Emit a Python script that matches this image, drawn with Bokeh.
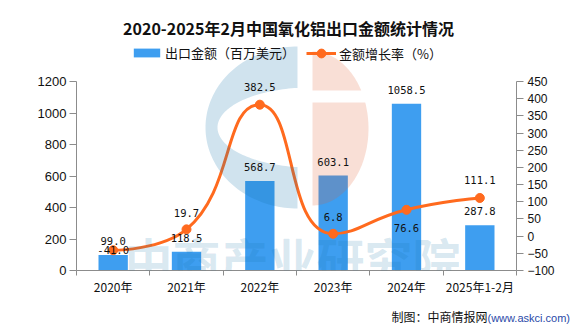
import math
import numpy as np
from bokeh.plotting import figure
from bokeh.layouts import column
from bokeh.models import (Range1d, LinearAxis, FixedTicker, Legend, LegendItem,
                          Label, ColumnDataSource, Div)
from bokeh.core.properties import value
from bokeh.embed import file_html
from bokeh.resources import INLINE

# ---------------- data ----------------
categories = ["2020年", "2021年", "2022年", "2023年", "2024年", "2025年1-2月"]
export_value = [99.0, 118.5, 568.7, 603.1, 1058.5, 287.8]      # 百万美元
growth_rate = [-41.0, 19.7, 382.5, 6.8, 76.6, 111.1]           # %
left_ticks = [0, 200, 400, 600, 800, 1000, 1200]
right_ticks = [-100, -50, 0, 50, 100, 150, 200, 250, 300, 350, 400, 450]

title_text = "2020-2025年2月中国氧化铝出口金额统计情况"
bar_legend = "出口金额（百万美元）"
line_legend = "金额增长率（%）"
source_text = "制图：中商情报网"
source_url = "(www.askci.com)"
watermark = "中商产业研究院"

# ---------------- styles ----------------
BAR_COLOR = "#3E9EF0"
LINE_COLOR = "#FF6A1E"
AXIS_COLOR = "#8c8c8c"
TEXT_COLOR = "#111111"
CJK = "Noto Sans CJK SC"
rate_label_offset = [0, -16, -18, -17, 18, -18]

W, H = 576, 324
PH = 300                               # figure height; a text row fills the rest
FL, FR, FT, FB = 76, 516, 0, 270      # frame in canvas pixels
AXIS_TOP = 81                          # pixel row of the top tick
n = len(categories)
x_lo, x_hi = -0.5, n - 0.5
y_top = left_ticks[-1] * (FB - FT) / (FB - AXIS_TOP)
r_lo, r_hi = right_ticks[0], right_ticks[-1]
r_top = r_lo + (r_hi - r_lo) * (FB - FT) / (FB - AXIS_TOP)


def px2x(px):
    return x_lo + (px - FL) / (FR - FL) * (x_hi - x_lo)


def py2y(py):
    return (FB - py) / (FB - FT) * y_top


def x2px(x):
    return FL + (x - x_lo) / (x_hi - x_lo) * (FR - FL)


def r2py(r):
    return FB - (r - r_lo) / (r_top - r_lo) * (FB - FT)


def py2r(py):
    return r_lo + (FB - py) / (FB - FT) * (r_top - r_lo)


p = figure(width=W, height=PH, output_backend="svg", toolbar_location=None,
           x_range=Range1d(x_lo, x_hi), y_range=Range1d(0, y_top),
           min_border_left=FL, min_border_right=W - FR,
           min_border_top=FT, min_border_bottom=PH - FB)
p.outline_line_color = None
p.xgrid.visible = False
p.ygrid.visible = False
p.background_fill_color = "white"
p.border_fill_color = "white"
p.extra_y_ranges = {"rate": Range1d(r_lo, r_top)}

idx = list(range(n))

# bars
bars = p.vbar(x=idx, top=export_value, width=0.4, bottom=0,
              fill_color=BAR_COLOR, line_color=None)

# smooth line (ECharts-style bezier smoothing, computed in pixel space)
px = [x2px(i) for i in idx]
py = [r2py(r) for r in growth_rate]


def smooth_segments(xs, ys, smooth=0.5):
    segs = []
    cpx0, cpy0 = xs[0], ys[0]
    prevX, prevY = xs[0], ys[0]
    m = len(xs)
    for i in range(1, m):
        x, y = xs[i], ys[i]
        if i == m - 1:
            cpx1, cpy1 = x, y
            ncx, ncy = x, y
        else:
            nX, nY = xs[i + 1], ys[i + 1]
            vx, vy = nX - prevX, nY - prevY
            lp = math.hypot(x - prevX, y - prevY)
            ln = math.hypot(nX - x, nY - y)
            ratio = ln / (ln + lp)
            ncx = x + vx * smooth * ratio
            ncy = y + vy * smooth * ratio
            ncx = max(min(ncx, max(nX, x)), min(nX, x))
            ncy = max(min(ncy, max(nY, y)), min(nY, y))
            vx, vy = ncx - x, ncy - y
            cpx1 = x - vx * lp / ln
            cpy1 = y - vy * lp / ln
            cpx1 = max(min(cpx1, max(prevX, x)), min(prevX, x))
            cpy1 = max(min(cpy1, max(prevY, y)), min(prevY, y))
            vx, vy = x - cpx1, y - cpy1
            ncx = x + vx * ln / lp
            ncy = y + vy * ln / lp
        segs.append((prevX, prevY, cpx0, cpy0, cpx1, cpy1, x, y))
        cpx0, cpy0 = ncx, ncy
        prevX, prevY = x, y
    return segs


segs = smooth_segments(px, py)
bz = dict(
    x0=[px2x(s[0]) for s in segs], y0=[py2r(s[1]) for s in segs],
    cx0=[px2x(s[2]) for s in segs], cy0=[py2r(s[3]) for s in segs],
    cx1=[px2x(s[4]) for s in segs], cy1=[py2r(s[5]) for s in segs],
    x1=[px2x(s[6]) for s in segs], y1=[py2r(s[7]) for s in segs],
)
curve = p.bezier(source=ColumnDataSource(bz), x0="x0", y0="y0", x1="x1", y1="y1",
                 cx0="cx0", cy0="cy0", cx1="cx1", cy1="cy1",
                 line_color=LINE_COLOR, line_width=3, y_range_name="rate")
dots = p.scatter(x=idx, y=growth_rate, size=9, marker="circle",
                 fill_color=LINE_COLOR, line_color=LINE_COLOR, y_range_name="rate")

# ---------------- logo watermark ----------------
# blue "C"
ocx, ocy, orx, ory = 297, 127, 92, 81
icx, icy, irx, iry = 310, 127, 93, 40
t_out = np.radians(np.linspace(270, 90, 90))
outer = [(ocx + orx * np.cos(t), ocy + ory * np.sin(t)) for t in t_out]
c0 = math.acos((ocx - icx) / irx)
t_in = np.linspace(c0, 2 * math.pi - c0, 90)
inner = [(icx + irx * np.cos(t), icy + iry * np.sin(t)) for t in t_in]
blue_pts = outer + inner
# salmon half disc with a white band
scx, scy, srx, sry = 312, 128, 56, 77
band_top, band_bot = 90, 102
t1 = math.asin((band_top - scy) / sry)
t2 = math.asin((band_bot - scy) / sry)
upper = [(scx + srx * np.cos(t), scy + sry * np.sin(t))
         for t in np.linspace(-math.pi / 2, t1, 40)] + [(scx, band_top)]
lower = [(scx, band_bot)] + [(scx + srx * np.cos(t), scy + sry * np.sin(t))
                             for t in np.linspace(t2, math.pi / 2, 60)]

p.patches(xs=[[px2x(a) for a, b in blue_pts]],
          ys=[[py2y(b) for a, b in blue_pts]],
          fill_color="#1473AA", fill_alpha=0.2, line_color=None)
p.patches(xs=[[px2x(a) for a, b in upper], [px2x(a) for a, b in lower]],
          ys=[[py2y(b) for a, b in upper], [py2y(b) for a, b in lower]],
          fill_color="#E06030", fill_alpha=0.2, line_color=None)

# ---------------- value labels ----------------
p.text(x=idx, y=export_value, text=[f"{v:.1f}" for v in export_value],
       y_offset=-14, text_align="center", text_baseline="middle",
       text_font=value("DejaVu Sans Mono"), text_font_size="10.5px",
       text_color=TEXT_COLOR)
rate_src = ColumnDataSource(dict(x=idx, y=growth_rate,
                                 t=[f"{v:.1f}" for v in growth_rate],
                                 dy=rate_label_offset))
p.text(source=rate_src, x="x", y="y", text="t", y_offset="dy",
       text_align="center", text_baseline="middle",
       text_font=value("DejaVu Sans Mono"), text_font_size="10.5px",
       text_color=TEXT_COLOR, y_range_name="rate")

# ---------------- axes ----------------
xa = p.xaxis[0]
xa.ticker = FixedTicker(ticks=idx, minor_ticks=[i - 0.5 for i in range(n + 1)])
xa.major_label_overrides = {i: c for i, c in enumerate(categories)}
xa.major_tick_out = 0
xa.major_tick_in = 0
xa.minor_tick_out = 5
xa.minor_tick_in = 0
xa.minor_tick_line_color = AXIS_COLOR
xa.axis_line_color = AXIS_COLOR
xa.major_label_standoff = 2
xa.major_label_text_font = CJK
xa.major_label_text_font_size = "12px"
xa.major_label_text_color = TEXT_COLOR

ya = p.yaxis[0]
ya.ticker = FixedTicker(ticks=left_ticks, minor_ticks=[])
ya.bounds = (left_ticks[0], left_ticks[-1])
ya.major_tick_out = 7
ya.major_tick_in = 0
ya.axis_line_color = AXIS_COLOR
ya.major_tick_line_color = AXIS_COLOR
ya.major_label_standoff = 3
ya.major_label_text_font = "Liberation Sans"
ya.major_label_text_font_size = "13px"
ya.major_label_text_color = TEXT_COLOR

ra = LinearAxis(y_range_name="rate", ticker=FixedTicker(ticks=right_ticks, minor_ticks=[]),
                bounds=(r_lo, r_hi))
ra.major_tick_out = 7
ra.major_tick_in = 0
ra.axis_line_color = AXIS_COLOR
ra.major_tick_line_color = AXIS_COLOR
ra.major_label_standoff = 4
ra.major_label_text_font = "Liberation Sans"
ra.major_label_text_font_size = "12px"
ra.major_label_text_color = TEXT_COLOR
p.add_layout(ra, "right")

# ---------------- legends ----------------
def style_legend(lg):
    lg.orientation = "horizontal"
    lg.padding = 0
    lg.margin = 0
    lg.spacing = 0
    lg.border_line_color = None
    lg.background_fill_alpha = 0
    lg.label_text_font = CJK
    lg.label_text_font_size = "13px"
    lg.label_text_color = TEXT_COLOR
    lg.label_text_baseline = "middle"


lg1 = Legend(items=[LegendItem(label=bar_legend, renderers=[bars])],
             location=(54, FB - 62), glyph_width=33, glyph_height=11,
             label_height=11, label_standoff=2)
style_legend(lg1)
lg2 = Legend(items=[LegendItem(label=line_legend, renderers=[curve, dots])],
             location=(230, FB - 64), glyph_width=30, glyph_height=22,
             label_height=22, label_standoff=3)
style_legend(lg2)
p.add_layout(lg1)
p.add_layout(lg2)

# ---------------- texts ----------------
p.add_layout(Label(x=292, y=257, x_units="canvas", y_units="canvas", text=watermark,
                   text_align="center", text_baseline="middle", text_font=CJK,
                   text_font_style="bold", text_font_size="48px",
                   text_color="#1473AA", text_alpha=0.17))
p.add_layout(Label(x=px2x(288), y=py2y(27), text=title_text, text_align="center",
                   text_baseline="middle", text_font=CJK, text_font_style="bold",
                   text_font_size="16px", text_color="#111111"))

src = Div(text=f'{source_text}<span style="color:#2a4aa8;font-family:\'Liberation Sans\';'
               f'font-size:11px">{source_url}</span>',
          width=W, height=H - PH,
          styles={"font-family": "'Noto Sans CJK SC'", "font-size": "12px",
                  "color": "#111111", "text-align": "right", "line-height": f"{H - PH}px",
                  "padding-right": "11px", "box-sizing": "border-box",
                  "background-color": "white"})

layout = column(p, src, spacing=0)
open("out.html", "w").write(file_html(layout, INLINE))
